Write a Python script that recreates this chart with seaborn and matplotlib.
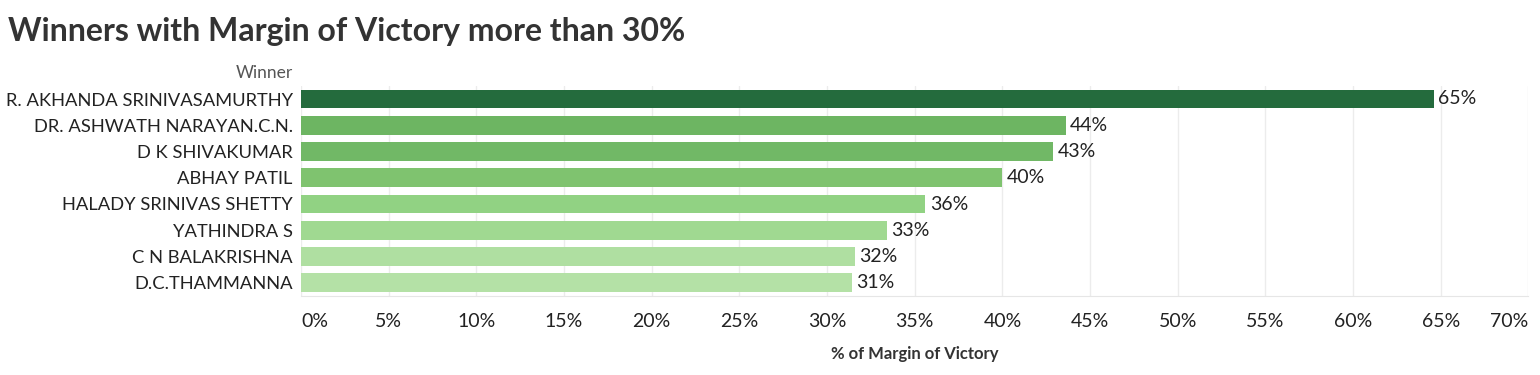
import matplotlib
matplotlib.use("Agg")
import matplotlib.pyplot as plt
import seaborn as sns
import pandas as pd

winners = ["R. AKHANDA SRINIVASAMURTHY", "DR. ASHWATH NARAYAN.C.N.", "D K SHIVAKUMAR",
           "ABHAY PATIL", "HALADY SRINIVAS SHETTY", "YATHINDRA S", "C N BALAKRISHNA",
           "D.C.THAMMANNA"]
margin = [64.6, 43.6, 42.9, 40.0, 35.6, 33.4, 31.6, 31.4]
bar_colors = ["#246b3d", "#6db562", "#71b866", "#7fc36f", "#91d283", "#a0d991", "#afdfa1", "#b4e1a6"]
x_ticks = [0, 5, 10, 15, 20, 25, 30, 35, 40, 45, 50, 55, 60, 65, 70]
x_tick_labels = [f"{t}%" for t in x_ticks]

sns.set_style("white")
plt.rcParams["font.family"] = ["Lato", "DejaVu Sans"]

df = pd.DataFrame({"Winner": winners, "Margin": margin})

fig = plt.figure(figsize=(15.4, 3.75), dpi=100)
ax = fig.add_axes([0.1955, 0.211, 0.797, 0.56])

sns.barplot(data=df, y="Winner", x="Margin", hue="Winner", palette=bar_colors,
            order=winners, hue_order=winners, orient="h", width=0.72, saturation=1,
            legend=False, ax=ax, edgecolor="none")

ax.set_xlim(0, 70)
ax.set_xticks(x_ticks, labels=x_tick_labels)
ax.grid(axis="x", color="#ececec", linewidth=1)
ax.set_axisbelow(True)
for s in ["top", "right", "left"]:
    ax.spines[s].set_visible(False)
ax.spines["bottom"].set_color("#e6e6e6")
ax.tick_params(axis="x", length=0, labelsize=14, colors="#222222", pad=12)
ax.tick_params(axis="y", length=0, labelsize=13.2, colors="#222222", pad=6)
ax.set_ylabel("")
ax.set_xlabel("% of Margin of Victory", fontsize=12, fontweight="bold", color="#333333", labelpad=12)

ticks = ax.xaxis.get_major_ticks()
ticks[0].label1.set_horizontalalignment("left")
ticks[-1].label1.set_horizontalalignment("right")

for i, v in enumerate(margin):
    ax.text(v + 0.25, i, f"{v:.0f}%", va="center", ha="left", fontsize=14, color="#222222")

fig.text(0.1905, 0.805, "Winner", ha="right", va="center", fontsize=12.5, color="#555555")
fig.text(0.005, 0.915, "Winners with Margin of Victory more than 30%", ha="left", va="center",
         fontsize=23, fontweight="bold", color="#333333")

fig.savefig("out.png", dpi=100, facecolor="white")
